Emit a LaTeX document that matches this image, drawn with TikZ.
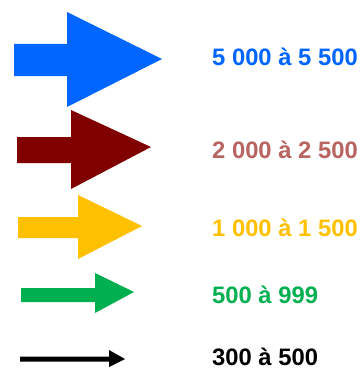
\documentclass[tikz,border=0pt]{standalone}
\usepackage{fontspec}
\setmainfont{Liberation Sans}
\definecolor{cblue}{RGB}{0,102,255}
\definecolor{cdred}{RGB}{128,0,0}
\definecolor{ctred}{RGB}{184,100,96}
\definecolor{cyel}{RGB}{255,192,0}
\definecolor{cgreen}{RGB}{0,176,80}
\tikzset{
  lbl/.style={anchor=base west,inner sep=0pt,font=\fontsize{23.8}{27}\selectfont\bfseries},
  arr/.style={draw=none}
}
\begin{document}
\begin{tikzpicture}[x=1pt,y=-1pt]
\useasboundingbox (0,0) rectangle (361,369);
% blue
\fill[cblue] (14,44) -- (67,44) -- (67,12) -- (162,59) -- (67,107) -- (67,76) -- (14,76) -- cycle;
% dark red
\fill[cdred] (17,137) -- (71,137) -- (71,110) -- (151,147) -- (71,189) -- (71,163) -- (17,163) -- cycle;
% yellow
\fill[cyel] (18,217) -- (78,217) -- (78,195) -- (142,226) -- (78,259) -- (78,238) -- (18,238) -- cycle;
% green
\fill[cgreen] (21,288) -- (95,288) -- (95,273) -- (134,292) -- (95,313) -- (95,302) -- (21,302) -- cycle;
% black
\fill[black] (20,356.5) -- (109,356.5) -- (109,350) -- (125,359) -- (109,367) -- (109,361.5) -- (20,361.5) -- cycle;
\node[lbl,text=cblue] (t1) at (212,65) {5 000 à 5 500};
\node[lbl,text=ctred] (t2) at (212,158) {2 000 à 2 500};
\node[lbl,text=cyel] (t3) at (212,236) {1 000 à 1 500};
\node[lbl,text=cgreen] (t4) at (212,303) {500 à 999};
\node[lbl,text=black] (t5) at (212,365) {300 à 500};
\end{tikzpicture}
\end{document}
